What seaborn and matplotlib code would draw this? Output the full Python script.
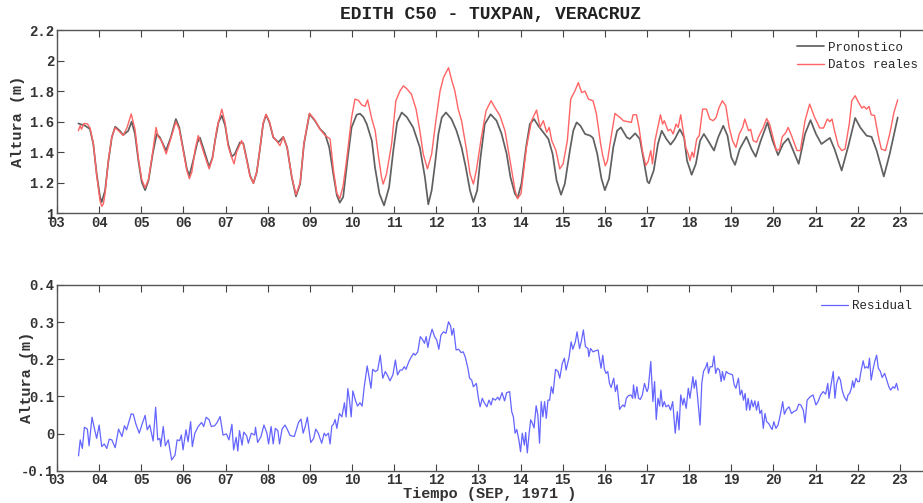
import seaborn as sns
import matplotlib.pyplot as plt
import matplotlib.ticker as mticker
import pandas as pd

# tiempo en dias de septiembre 1971 y alturas (m)
pron_t = [3.505, 3.66, 3.78, 3.86, 3.94, 4.02, 4.06, 4.14, 4.22, 4.30, 4.38, 4.49, 4.57, 4.69, 4.77, 4.85, 4.93,
          5.01, 5.09, 5.17, 5.27, 5.365, 5.44, 5.586, 5.70, 5.82, 5.90, 6.00, 6.08, 6.14, 6.23, 6.33, 6.39, 6.49,
          6.61, 6.69, 6.75, 6.83, 6.91, 6.99, 7.06, 7.145, 7.22, 7.34, 7.42, 7.50, 7.58, 7.66, 7.74, 7.82, 7.89,
          7.96, 8.04, 8.13, 8.25, 8.37, 8.46, 8.57, 8.67, 8.77, 8.86, 8.99, 9.12, 9.24, 9.36, 9.46, 9.555, 9.64,
          9.71, 9.79, 9.89, 9.99, 10.11, 10.19, 10.27, 10.35, 10.47, 10.545, 10.65, 10.76, 10.88, 10.98, 11.07,
          11.18, 11.30, 11.45, 11.61, 11.73, 11.81, 11.89, 11.97, 12.05, 12.13, 12.23, 12.36, 12.48, 12.60, 12.70,
          12.80, 12.88, 12.97, 13.05, 13.15, 13.29, 13.43, 13.55, 13.67, 13.76, 13.865, 13.93, 14.02, 14.13, 14.22,
          14.32, 14.42, 14.54, 14.66, 14.76, 14.855, 14.96, 15.05, 15.17, 15.25, 15.33, 15.42, 15.53, 15.65, 15.72,
          15.82, 15.92, 16.00, 16.10, 16.20, 16.29, 16.38, 16.52, 16.59, 16.72, 16.83, 16.91, 17.01, 17.05, 17.16,
          17.26, 17.35, 17.46, 17.56, 17.66, 17.78, 17.88, 17.95, 18.06, 18.16, 18.26, 18.35, 18.45, 18.59, 18.69,
          18.81, 18.91, 19.00, 19.09, 19.20, 19.36, 19.48, 19.58, 19.70, 19.86, 19.98, 20.11, 20.23, 20.35, 20.47,
          20.60, 20.75, 20.88, 21.01, 21.14, 21.34, 21.45, 21.62, 21.78, 21.94, 22.06, 22.21, 22.33, 22.45, 22.62,
          22.76, 22.95]
pron_v = [1.588, 1.574, 1.552, 1.454, 1.258, 1.105, 1.072, 1.148, 1.344, 1.497, 1.567, 1.54, 1.512, 1.54, 1.600,
          1.519, 1.344, 1.203, 1.150, 1.214, 1.388, 1.519, 1.497, 1.41, 1.497, 1.617, 1.562, 1.41, 1.29, 1.246,
          1.344, 1.464, 1.495, 1.41, 1.303, 1.366, 1.475, 1.595, 1.639, 1.573, 1.454, 1.37, 1.388, 1.464, 1.458,
          1.355, 1.246, 1.196, 1.268, 1.431, 1.584, 1.645, 1.595, 1.497, 1.464, 1.50, 1.431, 1.235, 1.109, 1.192,
          1.454, 1.65, 1.606, 1.552, 1.519, 1.431, 1.258, 1.116, 1.068, 1.105, 1.344, 1.562, 1.645, 1.652, 1.63,
          1.584, 1.475, 1.30, 1.127, 1.05, 1.17, 1.41, 1.595, 1.66, 1.63, 1.562, 1.43, 1.235, 1.057, 1.148, 1.323,
          1.519, 1.627, 1.66, 1.617, 1.54, 1.43, 1.30, 1.148, 1.072, 1.148, 1.366, 1.584, 1.648, 1.606, 1.519,
          1.388, 1.235, 1.127, 1.10, 1.192, 1.431, 1.584, 1.617, 1.573, 1.529, 1.486, 1.388, 1.214, 1.12, 1.192,
          1.41, 1.54, 1.595, 1.573, 1.519, 1.508, 1.493, 1.388, 1.225, 1.150, 1.225, 1.431, 1.54, 1.562, 1.497,
          1.486, 1.523, 1.486, 1.366, 1.207, 1.195, 1.279, 1.454, 1.54, 1.486, 1.449, 1.486, 1.55, 1.497, 1.344,
          1.251, 1.323, 1.475, 1.519, 1.475, 1.41, 1.497, 1.573, 1.508, 1.366, 1.316, 1.42, 1.50, 1.42, 1.37,
          1.475, 1.595, 1.475, 1.38, 1.454, 1.49, 1.41, 1.323, 1.519, 1.61, 1.519, 1.453, 1.493, 1.42, 1.279,
          1.442, 1.624, 1.562, 1.508, 1.50, 1.41, 1.24, 1.388, 1.627]

real_t = [3.505, 3.55, 3.58, 3.64, 3.72, 3.78, 3.86, 3.94, 4.02, 4.06, 4.10, 4.14, 4.22, 4.30, 4.38, 4.46, 4.57,
          4.66, 4.76, 4.85, 4.93, 5.01, 5.09, 5.17, 5.27, 5.35, 5.40, 5.47, 5.59, 5.70, 5.82, 5.90, 6.00, 6.08,
          6.14, 6.20, 6.28, 6.35, 6.42, 6.50, 6.61, 6.69, 6.79, 6.91, 6.99, 7.06, 7.145, 7.20, 7.26, 7.38, 7.42,
          7.50, 7.58, 7.66, 7.74, 7.82, 7.89, 7.96, 8.04, 8.13, 8.22, 8.29, 8.37, 8.46, 8.57, 8.67, 8.77, 8.86,
          8.99, 9.12, 9.24, 9.36, 9.48, 9.56, 9.64, 9.71, 9.79, 9.87, 9.99, 10.07, 10.15, 10.23, 10.31, 10.37,
          10.47, 10.55, 10.62, 10.70, 10.74, 10.82, 10.94, 11.04, 11.14, 11.22, 11.31, 11.41, 11.52, 11.61, 11.69,
          11.79, 11.89, 11.99, 12.09, 12.17, 12.29, 12.36, 12.44, 12.52, 12.60, 12.72, 12.80, 12.88, 12.95, 13.07,
          13.18, 13.30, 13.39, 13.51, 13.63, 13.75, 13.87, 13.93, 14.01, 14.14, 14.26, 14.38, 14.46, 14.54, 14.62,
          14.68, 14.74, 14.84, 14.93, 15.01, 15.11, 15.19, 15.29, 15.37, 15.45, 15.53, 15.61, 15.72, 15.80, 15.90,
          15.95, 16.01, 16.06, 16.16, 16.24, 16.36, 16.44, 16.63, 16.67, 16.75, 16.81, 16.89, 16.97, 17.03, 17.09,
          17.13, 17.19, 17.24, 17.32, 17.37, 17.41, 17.50, 17.56, 17.62, 17.69, 17.74, 17.80, 17.86, 17.92, 17.98,
          18.02, 18.07, 18.11, 18.18, 18.24, 18.32, 18.41, 18.49, 18.57, 18.64, 18.71, 18.79, 18.87, 18.95, 19.03,
          19.11, 19.19, 19.27, 19.32, 19.41, 19.46, 19.52, 19.60, 19.66, 19.76, 19.84, 19.91, 19.99, 20.07, 20.15,
          20.21, 20.30, 20.35, 20.43, 20.56, 20.64, 20.75, 20.86, 20.98, 21.10, 21.19, 21.28, 21.34, 21.39, 21.45,
          21.54, 21.62, 21.70, 21.80, 21.86, 21.94, 22.02, 22.10, 22.15, 22.21, 22.27, 22.32, 22.40, 22.48, 22.56,
          22.66, 22.76, 22.86, 22.95]
real_v = [1.54, 1.574, 1.55, 1.588, 1.585, 1.56, 1.46, 1.25, 1.08, 1.044, 1.06, 1.13, 1.35, 1.50, 1.56, 1.54, 1.51,
          1.56, 1.65, 1.55, 1.36, 1.22, 1.166, 1.22, 1.40, 1.562, 1.50, 1.48, 1.388, 1.49, 1.60, 1.55, 1.40, 1.28,
          1.225, 1.27, 1.42, 1.508, 1.45, 1.38, 1.29, 1.36, 1.55, 1.682, 1.59, 1.44, 1.366, 1.323, 1.40, 1.475,
          1.45, 1.35, 1.24, 1.196, 1.27, 1.43, 1.59, 1.648, 1.60, 1.50, 1.47, 1.442, 1.50, 1.43, 1.24, 1.12, 1.20,
          1.46, 1.655, 1.61, 1.55, 1.51, 1.486, 1.28, 1.13, 1.094, 1.18, 1.344, 1.627, 1.748, 1.74, 1.71, 1.70,
          1.743, 1.617, 1.54, 1.388, 1.235, 1.19, 1.258, 1.454, 1.737, 1.802, 1.835, 1.813, 1.78, 1.682, 1.54,
          1.388, 1.29, 1.388, 1.606, 1.802, 1.889, 1.954, 1.878, 1.802, 1.682, 1.606, 1.41, 1.258, 1.19, 1.279,
          1.497, 1.671, 1.737, 1.693, 1.639, 1.54, 1.344, 1.148, 1.094, 1.127, 1.431, 1.606, 1.676, 1.562, 1.606,
          1.53, 1.562, 1.475, 1.41, 1.29, 1.323, 1.475, 1.748, 1.802, 1.856, 1.791, 1.80, 1.748, 1.737, 1.65,
          1.454, 1.377, 1.31, 1.34, 1.519, 1.654, 1.627, 1.606, 1.595, 1.645, 1.645, 1.562, 1.41, 1.312, 1.34,
          1.41, 1.323, 1.475, 1.54, 1.645, 1.584, 1.606, 1.54, 1.55, 1.519, 1.584, 1.562, 1.645, 1.54, 1.431,
          1.388, 1.344, 1.40, 1.366, 1.486, 1.508, 1.682, 1.682, 1.617, 1.606, 1.627, 1.693, 1.737, 1.704, 1.562,
          1.475, 1.431, 1.519, 1.562, 1.617, 1.54, 1.55, 1.475, 1.465, 1.508, 1.562, 1.62, 1.584, 1.497, 1.41,
          1.42, 1.50, 1.53, 1.562, 1.508, 1.41, 1.41, 1.606, 1.715, 1.627, 1.558, 1.558, 1.617, 1.60, 1.617, 1.54,
          1.442, 1.41, 1.42, 1.584, 1.737, 1.77, 1.726, 1.689, 1.70, 1.682, 1.70, 1.645, 1.64, 1.519, 1.42, 1.41,
          1.519, 1.66, 1.743]

res_t = [3.51, 3.55, 3.60, 3.65, 3.72, 3.76, 3.83, 3.89, 3.94, 4.00, 4.06, 4.12, 4.18, 4.24, 4.30, 4.38, 4.46,
         4.54, 4.60, 4.65, 4.76, 4.81, 4.87, 4.95, 5.02, 5.09, 5.14, 5.20, 5.28, 5.34, 5.39, 5.44, 5.46, 5.52,
         5.57, 5.64, 5.72, 5.80, 5.85, 5.91, 5.95, 5.99, 6.06, 6.11, 6.17, 6.21, 6.27, 6.35, 6.43, 6.48, 6.54,
         6.61, 6.66, 6.74, 6.80, 6.87, 6.94, 7.02, 7.08, 7.15, 7.19, 7.25, 7.29, 7.33, 7.39, 7.43, 7.50, 7.54,
         7.61, 7.69, 7.71, 7.76, 7.84, 7.91, 7.98, 8.02, 8.08, 8.13, 8.18, 8.24, 8.28, 8.34, 8.41, 8.47, 8.53,
         8.63, 8.73, 8.79, 8.84, 8.89, 8.94, 9.02, 9.09, 9.14, 9.20, 9.28, 9.34, 9.38, 9.44, 9.48, 9.52, 9.56,
         9.60, 9.64, 9.70, 9.76, 9.82, 9.86, 9.90, 9.94, 9.98, 10.02, 10.08, 10.13, 10.19, 10.24, 10.29, 10.36,
         10.40, 10.45, 10.49, 10.55, 10.61, 10.67, 10.73, 10.79, 10.85, 10.90, 10.97, 11.03, 11.08, 11.14, 11.19,
         11.24, 11.28, 11.35, 11.40, 11.46, 11.50, 11.56, 11.62, 11.68, 11.72, 11.76, 11.80, 11.84, 11.90, 11.96,
         12.01, 12.06, 12.11, 12.17, 12.23, 12.29, 12.34, 12.37, 12.41, 12.47, 12.53, 12.59, 12.64, 12.69, 12.75,
         12.79, 12.84, 12.88, 12.95, 13.00, 13.04, 13.09, 13.14, 13.20, 13.25, 13.30, 13.34, 13.40, 13.46, 13.50,
         13.56, 13.62, 13.67, 13.74, 13.79, 13.83, 13.87, 13.91, 13.96, 14.00, 14.04, 14.09, 14.12, 14.16, 14.20,
         14.24, 14.28, 14.32, 14.37, 14.41, 14.45, 14.49, 14.53, 14.57, 14.61, 14.65, 14.69, 14.73, 14.77, 14.83,
         14.89, 14.93, 14.99, 15.04, 15.08, 15.15, 15.20, 15.24, 15.30, 15.34, 15.40, 15.44, 15.49, 15.54, 15.60,
         15.62, 15.66, 15.72, 15.78, 15.84, 15.87, 15.91, 15.95, 15.99, 16.03, 16.07, 16.11, 16.15, 16.21, 16.25,
         16.29, 16.35, 16.39, 16.43, 16.47, 16.51, 16.56, 16.62, 16.66, 16.68, 16.72, 16.76, 16.80, 16.84, 16.89,
         16.94, 17.00, 17.03, 17.09, 17.14, 17.18, 17.22, 17.26, 17.30, 17.33, 17.37, 17.41, 17.45, 17.51, 17.56,
         17.61, 17.64, 17.67, 17.72, 17.76, 17.80, 17.85, 17.88, 17.93, 17.98, 18.02, 18.09, 18.12, 18.16, 18.20,
         18.26, 18.30, 18.34, 18.40, 18.43, 18.46, 18.50, 18.55, 18.59, 18.63, 18.67, 18.72, 18.76, 18.79, 18.83,
         18.88, 18.93, 18.99, 19.03, 19.07, 19.11, 19.17, 19.21, 19.25, 19.29, 19.33, 19.36, 19.40, 19.44, 19.48,
         19.52, 19.56, 19.60, 19.64, 19.68, 19.72, 19.76, 19.80, 19.84, 19.89, 19.93, 19.97, 20.01, 20.06, 20.11,
         20.17, 20.22, 20.26, 20.31, 20.37, 20.43, 20.48, 20.55, 20.60, 20.65, 20.71, 20.75, 20.80, 20.87, 20.94,
         21.01, 21.06, 21.12, 21.18, 21.24, 21.29, 21.32, 21.36, 21.42, 21.46, 21.50, 21.55, 21.59, 21.63, 21.68,
         21.74, 21.77, 21.81, 21.85, 21.88, 21.91, 21.96, 22.00, 22.04, 22.07, 22.13, 22.17, 22.21, 22.25, 22.28,
         22.32, 22.37, 22.41, 22.45, 22.49, 22.54, 22.58, 22.64, 22.69, 22.74, 22.78, 22.84, 22.88, 22.92, 22.96]
res_v = [-0.06, -0.017, -0.04, 0.017, 0.012, -0.033, 0.044, 0.012, -0.013, 0.023, -0.035, -0.028, -0.04, -0.015,
         -0.017, -0.038, 0.012, -0.008, 0.021, 0.01, 0.053, 0.052, 0.026, 0.001, 0.026, 0.049, 0.01, 0.023, -0.02,
         0.071, -0.017, -0.013, -0.035, 0.019, -0.033, -0.017, -0.071, -0.058, -0.017, -0.019, -0.004, -0.044,
         0.01, -0.022, 0.032, -0.035, 0.001, 0.019, 0.03, 0.019, 0.044, 0.037, 0.019, 0.021, 0.03, 0.046, -0.004,
         -0.001, -0.017, 0.025, -0.044, -0.01, -0.047, 0.008, -0.031, 0.004, -0.006, -0.026, 0.001, -0.004, 0.017,
         -0.024, -0.008, 0.023, 0.001, -0.028, 0.019, -0.028, 0.014, 0.008, -0.028, 0.012, 0.023, 0.01, -0.005,
         -0.008, 0.03, 0.039, 0.001, 0.019, 0.044, -0.024, -0.013, 0.012, 0.001, -0.026, 0.001, -0.006, 0.001,
         -0.028, 0.02, 0.025, 0.038, 0.014, 0.054, 0.045, 0.083, 0.045, 0.121, 0.090, 0.045, 0.115, 0.090, 0.074,
         0.083, 0.074, 0.126, 0.182, 0.155, 0.122, 0.173, 0.167, 0.171, 0.211, 0.149, 0.167, 0.155, 0.142, 0.158,
         0.198, 0.158, 0.171, 0.171, 0.180, 0.173, 0.194, 0.205, 0.216, 0.211, 0.220, 0.261, 0.252, 0.243, 0.261,
         0.232, 0.256, 0.281, 0.261, 0.252, 0.227, 0.265, 0.274, 0.270, 0.301, 0.290, 0.265, 0.283, 0.225, 0.227,
         0.218, 0.220, 0.205, 0.176, 0.149, 0.144, 0.126, 0.135, 0.095, 0.072, 0.095, 0.083, 0.072, 0.090, 0.077,
         0.095, 0.090, 0.098, 0.090, 0.110, 0.088, 0.110, 0.113, 0.059, 0.045, 0.001, 0.011, -0.017, -0.049, 0.001,
         -0.031, 0.003, -0.052, -0.003, 0.037, 0.028, 0.015, 0.075, 0.050, -0.026, 0.086, 0.045, 0.086, 0.041,
         0.090, 0.090, 0.126, 0.108, 0.173, 0.167, 0.149, 0.189, 0.203, 0.171, 0.205, 0.247, 0.227, 0.247, 0.274,
         0.229, 0.247, 0.279, 0.234, 0.229, 0.207, 0.229, 0.220, 0.223, 0.225, 0.203, 0.176, 0.211, 0.173, 0.162,
         0.167, 0.135, 0.124, 0.149, 0.113, 0.131, 0.065, 0.072, 0.077, 0.072, 0.095, 0.102, 0.104, 0.095, 0.131,
         0.095, 0.126, 0.095, 0.092, 0.104, 0.135, 0.113, 0.122, 0.194, 0.086, 0.140, 0.038, 0.095, 0.074, 0.117,
         0.072, 0.086, 0.072, 0.077, 0.063, 0.086, 0.045, 0.001, 0.059, 0.010, 0.104, 0.077, 0.095, 0.068, 0.122,
         0.095, 0.153, 0.122, 0.144, 0.099, 0.023, 0.135, 0.167, 0.180, 0.191, 0.162, 0.180, 0.180, 0.209, 0.162,
         0.176, 0.171, 0.140, 0.167, 0.144, 0.167, 0.162, 0.160, 0.158, 0.131, 0.122, 0.149, 0.104, 0.117, 0.090,
         0.108, 0.063, 0.095, 0.063, 0.090, 0.072, 0.088, 0.063, 0.086, 0.054, 0.063, 0.014, 0.054, 0.032, 0.027,
         0.018, 0.011, 0.032, 0.014, 0.023, 0.054, 0.086, 0.052, 0.065, 0.072, 0.054, 0.059, 0.063, 0.079, 0.077,
         0.063, 0.029, 0.090, 0.099, 0.104, 0.077, 0.086, 0.104, 0.113, 0.106, 0.135, 0.095, 0.126, 0.167, 0.095,
         0.135, 0.153, 0.144, 0.117, 0.099, 0.088, 0.104, 0.108, 0.122, 0.142, 0.124, 0.149, 0.140, 0.140, 0.162,
         0.196, 0.176, 0.180, 0.176, 0.203, 0.144, 0.176, 0.196, 0.211, 0.176, 0.167, 0.151, 0.162, 0.144, 0.126,
         0.117, 0.126, 0.122, 0.135, 0.117]

dias = list(range(3, 24))
dia_labels = ["%02d" % d for d in dias]

sns.set_theme(style="white")
plt.rcParams['font.family'] = ['Liberation Mono', 'DejaVu Sans Mono']
plt.rcParams['xtick.direction'] = 'in'
plt.rcParams['ytick.direction'] = 'in'

df_pron = pd.DataFrame({"t": pron_t, "altura": pron_v})
df_real = pd.DataFrame({"t": real_t, "altura": real_v})
df_res = pd.DataFrame({"t": res_t, "altura": res_v})

fig = plt.figure(figsize=(9.23, 5.03), dpi=100)
ax1 = fig.add_axes([0.0618, 0.5765, 0.9382, 0.3634])
ax2 = fig.add_axes([0.0618, 0.0642, 0.9382, 0.3692])

sns.lineplot(data=df_pron, x="t", y="altura", ax=ax1, color="#606060", linewidth=1.25,
             estimator=None, label="Pronostico")
sns.lineplot(data=df_real, x="t", y="altura", ax=ax1, color="#ff6464", linewidth=1.0,
             estimator=None, label="Datos reales")
sns.lineplot(data=df_res, x="t", y="altura", ax=ax2, color="#6464ff", linewidth=0.9,
             estimator=None, label="Residual")

ax1.set_ylim(1, 2.2)
ax1.set_yticks([1, 1.2, 1.4, 1.6, 1.8, 2.0, 2.2])
ax2.set_ylim(-0.1, 0.4)
ax2.set_yticks([-0.1, 0, 0.1, 0.2, 0.3, 0.4])

for ax in (ax1, ax2):
    ax.set_xlim(3, 23.55)
    ax.set_xticks(dias)
    ax.set_xticklabels(dia_labels)
    ax.yaxis.set_major_formatter(mticker.FormatStrFormatter('%g'))
    ax.tick_params(axis='x', top=True, bottom=True, length=5, width=0.8, color="#444444",
                   labelsize=10, pad=2)
    ax.tick_params(axis='y', left=True, length=5, width=0.8, color="#444444", labelsize=10, pad=2)
    for lab in ax.get_xticklabels() + ax.get_yticklabels():
        lab.set_fontweight('bold')
        lab.set_color("#333333")
    for s in ('left', 'bottom', 'top'):
        ax.spines[s].set_color("#555555")
        ax.spines[s].set_linewidth(1.0)
    ax.spines['right'].set_visible(False)

ax1.set_title("EDITH C50 - TUXPAN, VERACRUZ", fontsize=13, fontweight='bold', color="#222222", pad=8)
ax1.set_xlabel("")
ax1.set_ylabel("Altura (m)", fontsize=11, fontweight='bold', color="#333333")
ax1.yaxis.set_label_coords(-0.037, 0.5)
ax2.set_xlabel("Tiempo (SEP, 1971 )", fontsize=11, fontweight='bold', color="#333333", labelpad=0)
# como en el original, la etiqueta queda encima de los numeros del eje
ax2.set_ylabel("Altura (m)", fontsize=11, fontweight='bold', color="#333333")
ax2.yaxis.set_label_coords(-0.027, 0.5)

ax1.legend(loc='upper right', bbox_to_anchor=(1.0, 0.965), frameon=False, fontsize=9,
           handlelength=2.2, handletextpad=0.3, labelspacing=0.45, borderaxespad=0)
ax2.legend(loc='upper right', bbox_to_anchor=(0.993, 0.945), frameon=False, fontsize=9,
           handlelength=2.2, handletextpad=0.3, borderaxespad=0)

fig.savefig("out.png", dpi=100)
